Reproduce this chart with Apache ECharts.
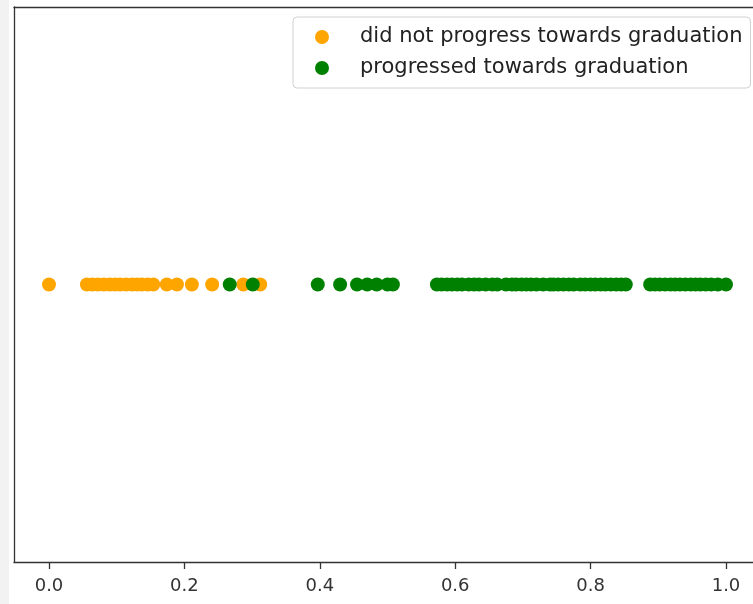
<!DOCTYPE html>
<html>
<head>
<meta charset="utf-8">
<script src="https://cdn.jsdelivr.net/npm/echarts@6/dist/echarts.min.js"></script>
<style>
  html, body { margin: 0; padding: 0; background: #fff; }
  #chart { width: 753px; height: 604px; }
</style>
</head>
<body>
<div id="chart"></div>
<script>
// values (x position of each dot)
const notProgressed = [0.0, 0.056, 0.064, 0.072, 0.081, 0.090, 0.098, 0.105, 0.114, 0.123, 0.130,
  0.137, 0.146, 0.154, 0.174, 0.189, 0.211, 0.241, 0.287, 0.312]
const progressed = [0.267, 0.301, 0.397, 0.430, 0.455, 0.470, 0.484, 0.500, 0.508,
  0.573, 0.580, 0.588, 0.595, 0.603, 0.610, 0.620, 0.628, 0.635, 0.645, 0.655, 0.662,
  0.675, 0.684, 0.690, 0.698, 0.705, 0.712, 0.720, 0.730, 0.740, 0.745, 0.752, 0.760,
  0.768, 0.775, 0.785, 0.792, 0.800, 0.807, 0.815, 0.822, 0.830, 0.838, 0.845, 0.852,
  0.888, 0.895, 0.902, 0.910, 0.918, 0.925, 0.932, 0.940, 0.948, 0.955, 0.962, 0.970,
  0.978, 0.988, 1.0]
const tickValues = [0, 0.2, 0.4, 0.6, 0.8, 1.0]
const seriesNames = ['did not progress towards graduation', 'progressed towards graduation']
const colors = ['#FFA500', '#008000']

const chart = echarts.init(document.getElementById('chart'))

function toPoints(arr) {
  return arr.map(v => [v, 0])
}

const spine = { color: '#333', width: 1.3 }

const option = {
  animation: false,
  color: colors,
  textStyle: { fontFamily: 'DejaVu Sans' },
  graphic: [
    {
      type: 'rect',
      shape: { x: 0, y: 0, width: 9, height: 604 },
      style: { fill: '#f2f2f2' },
      z: -10
    }
  ],
  grid: {
    left: 14,
    right: 0,
    top: 7,
    bottom: 42,
    show: false
  },
  legend: {
    orient: 'vertical',
    left: 293,
    top: 17,
    padding: [9, 8, 9, 22],
    itemWidth: 14,
    itemHeight: 14,
    itemGap: 9,
    icon: 'circle',
    borderColor: '#d0d0d0',
    borderWidth: 1,
    borderRadius: 4,
    backgroundColor: '#fff',
    textStyle: {
      fontSize: 21,
      lineHeight: 22,
      color: '#222',
      padding: [0, 0, 0, 26]
    },
    data: seriesNames
  },
  xAxis: [
    {
      type: 'value',
      min: -0.0517,
      max: 1.0399,
      splitLine: { show: false },
      axisLine: { show: true, onZero: false, lineStyle: spine },
      axisTick: {
        show: true,
        length: 7,
        customValues: tickValues,
        lineStyle: spine
      },
      axisLabel: {
        customValues: tickValues,
        margin: 15,
        fontSize: 18,
        color: '#333',
        formatter: v => v.toFixed(1)
      }
    },
    {
      // top spine only
      type: 'value',
      position: 'top',
      min: -0.0517,
      max: 1.0399,
      splitLine: { show: false },
      axisLine: { show: true, onZero: false, lineStyle: spine },
      axisTick: { show: false },
      axisLabel: { show: false }
    }
  ],
  yAxis: {
    type: 'value',
    min: -1,
    max: 1,
    splitLine: { show: false },
    axisLine: { show: true, onZero: false, lineStyle: spine },
    axisTick: { show: false },
    axisLabel: { show: false }
  },
  series: [
    {
      name: seriesNames[0],
      type: 'scatter',
      symbolSize: 14,
      data: toPoints(notProgressed),
      itemStyle: { color: colors[0], opacity: 1 }
    },
    {
      name: seriesNames[1],
      type: 'scatter',
      symbolSize: 14,
      data: toPoints(progressed),
      itemStyle: { color: colors[1], opacity: 1 }
    }
  ]
}

chart.setOption(option)
</script>
</body>
</html>
